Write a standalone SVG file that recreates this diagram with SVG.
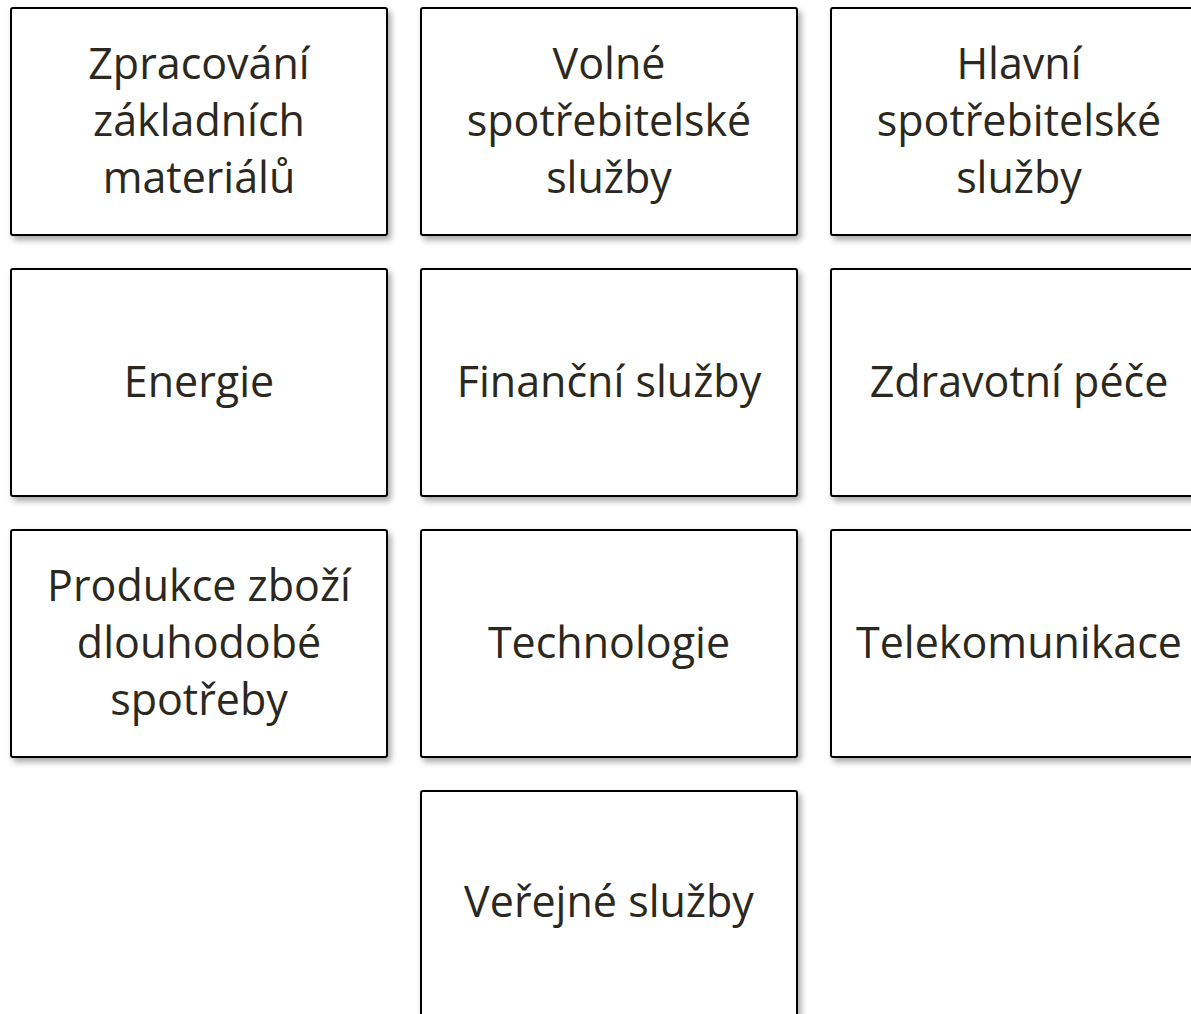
<svg xmlns="http://www.w3.org/2000/svg" width="1191" height="1014" viewBox="0 0 1191 1014">
<defs>
<filter id="sh" x="-5%" y="-5%" width="115%" height="115%">
<feDropShadow dx="3" dy="4" stdDeviation="3" flood-color="#000" flood-opacity="0.35"/>
</filter>
</defs>
<style>
.box{fill:#fff;stroke:#000;stroke-width:2;filter:url(#sh)}
.t{font-family:"Open Sans","Noto Sans",sans-serif;font-size:43px;fill:#2b2820;text-anchor:middle}
</style>
<rect width="1191" height="1014" fill="#fff"/>
<g id="connectors"/>
<g id="n1"><rect class="box" x="11" y="8" width="376" height="227" rx="2"/>
<text class="t" x="199" y="79">Zpracování</text><text class="t" x="199" y="136">základních</text><text class="t" x="199" y="193">materiálů</text></g>
<g id="n2"><rect class="box" x="421" y="8" width="376" height="227" rx="2"/>
<text class="t" x="609" y="79">Volné</text><text class="t" x="609" y="136">spotřebitelské</text><text class="t" x="609" y="193">služby</text></g>
<g id="n3"><rect class="box" x="831" y="8" width="376" height="227" rx="2"/>
<text class="t" x="1019" y="79">Hlavní</text><text class="t" x="1019" y="136">spotřebitelské</text><text class="t" x="1019" y="193">služby</text></g>
<g id="n4"><rect class="box" x="11" y="269" width="376" height="227" rx="2"/>
<text class="t" x="199" y="397">Energie</text></g>
<g id="n5"><rect class="box" x="421" y="269" width="376" height="227" rx="2"/>
<text class="t" x="609" y="397">Finanční služby</text></g>
<g id="n6"><rect class="box" x="831" y="269" width="376" height="227" rx="2"/>
<text class="t" x="1019" y="397">Zdravotní péče</text></g>
<g id="n7"><rect class="box" x="11" y="530" width="376" height="227" rx="2"/>
<text class="t" x="199" y="601">Produkce zboží</text><text class="t" x="199" y="658">dlouhodobé</text><text class="t" x="199" y="715">spotřeby</text></g>
<g id="n8"><rect class="box" x="421" y="530" width="376" height="227" rx="2"/>
<text class="t" x="609" y="658">Technologie</text></g>
<g id="n9"><rect class="box" x="831" y="530" width="376" height="227" rx="2"/>
<text class="t" x="1019" y="658">Telekomunikace</text></g>
<g id="n10"><rect class="box" x="421" y="791" width="376" height="227" rx="2"/>
<text class="t" x="609" y="917">Veřejné služby</text></g>
</svg>
